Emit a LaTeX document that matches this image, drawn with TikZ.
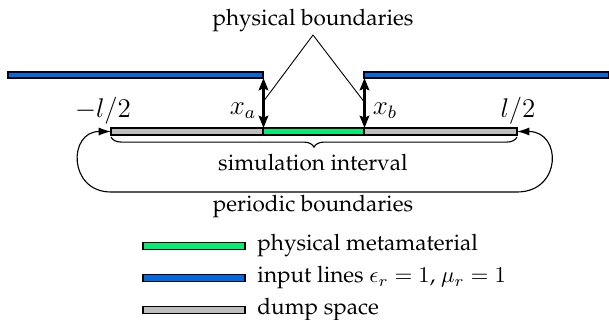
\documentclass[tikz,border=0pt]{standalone}
\usepackage[T1]{fontenc}
\usepackage{palatino}
\usetikzlibrary{calc,positioning,arrows.meta,decorations.pathreplacing}

\definecolor{metagreen}{RGB}{0,238,118}
\definecolor{lineblue}{RGB}{0,106,228}
\definecolor{dumpgray}{RGB}{190,190,190}

\tikzset{
	bar/.style={draw=black, line width=0.5pt},
	boundarrow/.style={{Stealth[length=5.4pt,width=4.2pt,inset=0.8pt]}-{Stealth[length=5.4pt,width=4.2pt,inset=0.8pt]}, line width=1.6pt},
	periodicarrow/.style={{Latex[length=5.5pt,width=3.6pt]}-{Latex[length=5.5pt,width=3.6pt]}, line width=0.5pt},
	lbl/.style={inner sep=0pt, font=\large},
}

\begin{document}
\begin{tikzpicture}[x=0.444pt,y=-0.444pt]
					\useasboundingbox (0,0) rectangle (609,320);
					\coordinate (origin) at (313,131.5);
					% input lines
					\filldraw[bar, fill=lineblue] (8,72) rectangle (263,78);
					\filldraw[bar, fill=lineblue] (364,72) rectangle (609,78);
					% simulation interval
					\filldraw[bar, fill=dumpgray] (111,128) rectangle (263,135);
					\filldraw[bar, fill=metagreen] (263,128) rectangle (364,135);
					\filldraw[bar, fill=dumpgray] (364,128) rectangle (517,135);

					\coordinate (leftend) at (111,131.5);
					\coordinate (rightend) at (517,131.5);
					\coordinate (topa) at (263.5,78);
					\coordinate (bota) at (263.5,128);
					\coordinate (topb) at (364.5,78);
					\coordinate (botb) at (364.5,128);
					\draw[boundarrow] (topa) -- (bota);
					\draw[boundarrow] (topb) -- (botb);

					\node[lbl] (lblxa) at ($(origin) + (-70, -21)$) {$x_a$};
					\node[lbl] (lblxb) at ($(origin) + (72, -21)$) {$x_b$};
					\node[lbl] (lblleft) at ($(origin) + (-210, -21)$) {$-l/2$};
					\node[lbl] (lblright) at ($(origin) + (205, -21)$) {$l/2$};

					% physical boundaries
					\node (title) at (313,21) {physical boundaries};
					\coordinate (apex) at (313,35);
					\coordinate (hita) at (264.5,100);
					\coordinate (hitb) at (363.5,101);
					\draw[line width=0.4pt] (hita) -- (apex) -- (hitb);

					% brace and periodic boundaries
					\draw[decorate, decoration={brace, mirror, amplitude=4.5pt}, line width=0.5pt] (111,137) -- (517,137);
					\node (siminterval) at ($(origin) + (0, 31)$) {simulation interval};
					\draw[periodicarrow] (leftend) .. controls (68,131.5) and (68,192) .. (111,192) -- (517,192) .. controls (562,192) and (562,131.5) .. (rightend);
					\node (periodic) at ($(origin) + (0, 75)$) {periodic boundaries};

					% legend
					\filldraw[bar, fill=metagreen] (143,242.5) rectangle (245,249.5);
					\node[anchor=west, inner sep=0pt] (legmeta) at (257,246) {physical metamaterial};
					\filldraw[bar, fill=lineblue] (143,274.5) rectangle (245,281.5);
					\node[anchor=west, inner sep=0pt] (legin) at (257,278) {input lines $\epsilon_r = 1$, $\mu_r = 1$};
					\filldraw[bar, fill=dumpgray] (143,306.5) rectangle (245,313.5);
					\node[anchor=west, inner sep=0pt] (legdump) at (257,310) {dump space};
\end{tikzpicture}
\end{document}
